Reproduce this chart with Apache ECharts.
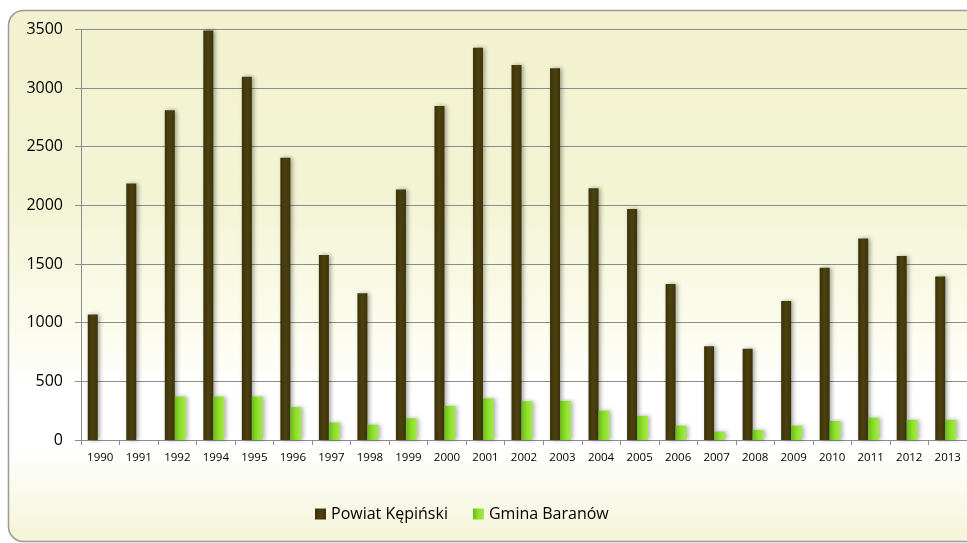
<!DOCTYPE html>
<html>
<head>
<meta charset="utf-8">
<script src="https://cdn.jsdelivr.net/npm/echarts@6/dist/echarts.min.js"></script>
<style>
html,body{margin:0;padding:0;background:#fff;}
#chart{width:967px;height:543px;}
</style>
</head>
<body>
<div id="chart"></div>
<script>
const categories = ['1990','1991','1992','1994','1995','1996','1997','1998','1999','2000','2001','2002','2003','2004','2005','2006','2007','2008','2009','2010','2011','2012','2013'];
const powiat = [1070,2185,2810,3490,3095,2405,1577,1250,2135,2846,3343,3196,3168,2145,1969,1330,798,777,1185,1468,1717,1568,1393];
const gmina = [null,null,370,370,370,280,148,130,185,290,355,330,333,250,205,122,71,85,122,162,190,171,171];
const yTicks = {min:0, max:3500, interval:500};
const seriesNames = ['Powiat Kępiński','Gmina Baranów'];

const chart = echarts.init(document.getElementById('chart'));
const font = '"Open Sans", "DejaVu Sans", sans-serif';
chart.setOption({
  animation:false,
  backgroundColor:'#ffffff',
  graphic:[{
    type:'rect', z:-10, silent:true,
    shape:{x:8.5, y:10.5, width:975, height:531, r:15},
    style:{
      fill:new echarts.graphic.LinearGradient(0,0,0,1,[
        {offset:0,color:'#f2f2d0'},
        {offset:0.36,color:'#f3f4d4'},
        {offset:0.6,color:'#fcfcee'},
        {offset:0.72,color:'#ffffff'},
        {offset:0.82,color:'#ffffff'},
        {offset:1,color:'#f4f4d8'}
      ]),
      stroke:'#9a9a9a', lineWidth:1.5
    }
  }],
  grid:{left:81, right:-9, top:29.3, bottom:103, containLabel:false},
  legend:{
    left:315, top:506, padding:0,
    itemWidth:11, itemHeight:11, itemGap:25,
    icon:'rect',
    textStyle:{fontFamily:font, fontSize:16, color:'#000'},
    data:seriesNames
  },
  xAxis:{
    type:'category', data:categories,
    axisLine:{lineStyle:{color:'#8c8c8c', width:1}},
    axisTick:{show:true, length:5, lineStyle:{color:'#8c8c8c'}},
    axisLabel:{fontFamily:font, fontSize:11.5, color:'#000', margin:12, interval:0}
  },
  yAxis:{
    type:'value', min:yTicks.min, max:yTicks.max, interval:yTicks.interval,
    axisLine:{show:true, lineStyle:{color:'#8c8c8c', width:1}},
    axisTick:{show:true, length:6, lineStyle:{color:'#8c8c8c'}},
    axisLabel:{fontFamily:font, fontSize:16, color:'#000', margin:18, formatter:function(v){return String(v);}},
    splitLine:{lineStyle:{color:'#8c8c8c', width:1.2}}
  },
  series:[
    {
      name:seriesNames[0], type:'bar', data:powiat, barWidth:10, barGap:'0%',
      itemStyle:{
        color:new echarts.graphic.LinearGradient(0,0,1,0,[
          {offset:0,color:'#3a3108'},{offset:0.5,color:'#4c4110'},{offset:1,color:'#3c3309'}
        ]),
        shadowColor:'rgba(0,0,0,0.35)', shadowBlur:4, shadowOffsetX:2
      }
    },
    {
      name:seriesNames[1], type:'bar', data:gmina, barWidth:11, barGap:'0%',
      itemStyle:{
        color:new echarts.graphic.LinearGradient(0,0,1,0,[
          {offset:0,color:'#68bb1a'},{offset:0.5,color:'#8fe02a'},{offset:1,color:'#a6e852'}
        ]),
        shadowColor:'rgba(0,0,0,0.3)', shadowBlur:4, shadowOffsetX:2
      }
    },
    {
      name:'spacer', type:'bar', data:[], barWidth:4, barGap:'0%', silent:true
    }
  ]
});
</script>
</body>
</html>
